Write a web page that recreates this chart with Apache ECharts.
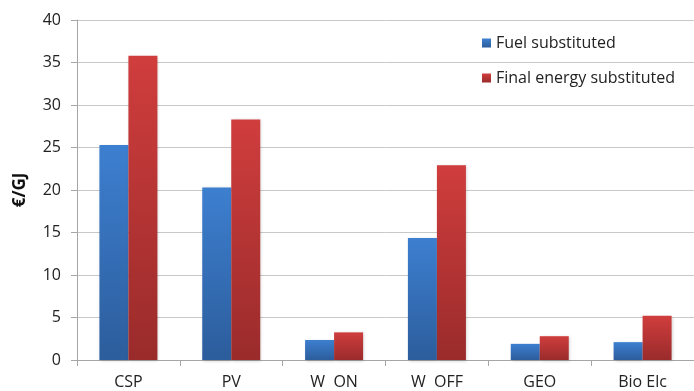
<!DOCTYPE html>
<html>
<head>
<meta charset="utf-8">
<script src="https://cdn.jsdelivr.net/npm/echarts@6/dist/echarts.min.js"></script>
<style>
  html, body { margin: 0; padding: 0; background: #fff; }
  #chart { width: 694px; height: 391px; }
</style>
</head>
<body>
<div id="chart"></div>
<script>
// Cost of substituted energy per technology, €/GJ
const categories = ['CSP', 'PV', 'W  ON', 'W  OFF', 'GEO', 'Bio Elc'];
const fuelSubstituted = [25.3, 20.3, 2.35, 14.35, 1.9, 2.1];
const finalEnergySubstituted = [35.8, 28.3, 3.25, 22.9, 2.8, 5.2];
const yTicks = { min: 0, max: 40, interval: 5 };

const font = 'Open Sans, Noto Sans, sans-serif';

function grad(top, bottom) {
  return new echarts.graphic.LinearGradient(0, 0, 0, 1, [
    { offset: 0, color: top },
    { offset: 1, color: bottom }
  ]);
}

const chart = echarts.init(document.getElementById('chart'));
chart.setOption({
  animation: false,
  backgroundColor: '#ffffff',
  grid: { left: 77, top: 20, width: 625, height: 340, containLabel: false },
  legend: {
    orient: 'vertical',
    left: 477,
    top: 30,
    itemWidth: 9,
    itemHeight: 9,
    itemGap: 19,
    icon: 'rect',
    textStyle: { fontFamily: font, fontSize: 16, color: '#222' },
    data: ['Fuel substituted', 'Final energy substituted']
  },
  xAxis: {
    type: 'category',
    data: categories,
    axisLine: { lineStyle: { color: '#a6a6a6', width: 1 } },
    axisTick: { show: true, length: 6, lineStyle: { color: '#a6a6a6' } },
    axisLabel: { fontFamily: font, fontSize: 16, color: '#222', margin: 14 }
  },
  yAxis: {
    type: 'value',
    min: yTicks.min,
    max: yTicks.max,
    interval: yTicks.interval,
    name: '€/GJ',
    nameLocation: 'middle',
    nameRotate: 90,
    nameGap: 48,
    nameTextStyle: { fontFamily: font, fontSize: 17, fontWeight: 'bold', color: '#111' },
    axisLine: { show: true, lineStyle: { color: '#a6a6a6', width: 1 } },
    axisTick: { show: true, length: 6, lineStyle: { color: '#a6a6a6' } },
    axisLabel: { fontFamily: font, fontSize: 16, color: '#222', margin: 16 },
    splitLine: { lineStyle: { color: '#c8c8c8', width: 1 } }
  },
  series: [
    {
      name: 'Fuel substituted',
      type: 'bar',
      data: fuelSubstituted,
      barWidth: 29,
      barGap: '0%',
      itemStyle: {
        color: grad('#3d7fd0', '#2c5d9c'),
        shadowColor: 'rgba(0,0,0,0.2)',
        shadowBlur: 3,
        shadowOffsetX: 1,
        shadowOffsetY: 1
      }
    },
    {
      name: 'Final energy substituted',
      type: 'bar',
      data: finalEnergySubstituted,
      barWidth: 29,
      barGap: '0%',
      itemStyle: {
        color: grad('#d03d3d', '#9a2b2b'),
        shadowColor: 'rgba(0,0,0,0.2)',
        shadowBlur: 3,
        shadowOffsetX: 1,
        shadowOffsetY: 1
      }
    }
  ]
});
</script>
</body>
</html>
